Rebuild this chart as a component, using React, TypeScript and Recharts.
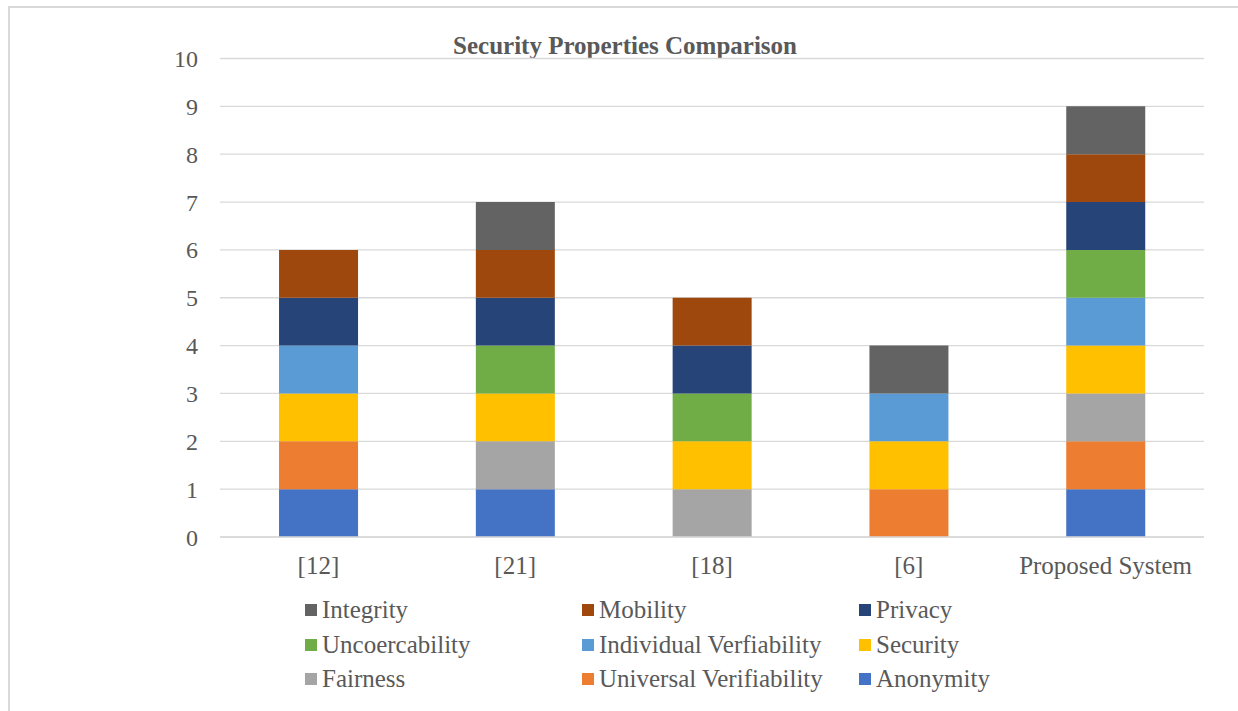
import { BarChart, Bar, XAxis, YAxis, CartesianGrid } from 'recharts';

// Categories (x axis)
const categories = ['[12]', '[21]', '[18]', '[6]', 'Proposed System'];

// Series values per category, stacked bottom to top
const anonymity = [1, 1, 0, 0, 1];
const universalVerifiability = [1, 0, 0, 1, 1];
const fairness = [0, 1, 1, 0, 1];
const security = [1, 1, 1, 1, 1];
const individualVerfiability = [1, 0, 0, 1, 1];
const uncoercability = [0, 1, 1, 0, 1];
const privacy = [1, 1, 1, 0, 1];
const mobility = [1, 1, 1, 0, 1];
const integrity = [0, 1, 0, 1, 1];

const yTicks = [0, 1, 2, 3, 4, 5, 6, 7, 8, 9, 10];

const series = [
    { key: 'Anonymity', values: anonymity, color: '#4472C4' },
    { key: 'Universal Verifiability', values: universalVerifiability, color: '#ED7D31' },
    { key: 'Fairness', values: fairness, color: '#A5A5A5' },
    { key: 'Security', values: security, color: '#FFC000' },
    { key: 'Individual Verfiability', values: individualVerfiability, color: '#5B9BD5' },
    { key: 'Uncoercability', values: uncoercability, color: '#70AD47' },
    { key: 'Privacy', values: privacy, color: '#264478' },
    { key: 'Mobility', values: mobility, color: '#9E480E' },
    { key: 'Integrity', values: integrity, color: '#636363' },
];

const data = categories.map((name, i) => {
    const row: Record<string, string | number> = { name };
    series.forEach(s => {
        row[s.key] = s.values[i];
    });
    return row;
});

const FONT = '"Liberation Serif", "Times New Roman", serif';
const TEXT = '#595959';
const GRID = '#d9d9d9';

// legend shows series in reverse order, 3 per row
const legendItems = [...series].reverse();

export default function App() {
    return (
        <div
            style={{
                position: 'fixed',
                left: 0,
                top: 0,
                width: 1238,
                height: 711,
                overflow: 'hidden',
                background: '#fff',
                fontFamily: FONT,
            }}
        >
            <div
                style={{
                    position: 'absolute',
                    left: 8,
                    top: 6,
                    width: 1300,
                    height: 800,
                    border: `2px solid ${GRID}`,
                    boxSizing: 'border-box',
                }}
            />
            <div
                style={{
                    position: 'absolute',
                    left: 625,
                    top: 33,
                    transform: 'translateX(-50%)',
                    fontSize: 25,
                    lineHeight: '25px',
                    fontWeight: 'bold',
                    color: TEXT,
                    whiteSpace: 'nowrap',
                }}
            >
                Security Properties Comparison
            </div>
            <div style={{ position: 'absolute', left: 0, top: 0 }}>
                <BarChart
                    width={1238}
                    height={711}
                    data={data}
                    margin={{ top: 58.5, right: 34, left: 160, bottom: 144 }}
                    barCategoryGap="30%"
                >
                    <CartesianGrid vertical={false} stroke={GRID} strokeWidth={1.3} />
                    <XAxis
                        dataKey="name"
                        height={30}
                        axisLine={{ stroke: GRID, strokeWidth: 1.3 }}
                        tickLine={false}
                        tickSize={0}
                        tickMargin={19}
                        tick={{ fill: TEXT, fontSize: 25, fontFamily: FONT }}
                    />
                    <YAxis
                        width={60}
                        domain={[0, 10]}
                        ticks={yTicks}
                        axisLine={false}
                        tickLine={false}
                        tickSize={0}
                        tickMargin={22}
                        tick={{ fill: TEXT, fontSize: 24, fontFamily: FONT }}
                    />
                    {series.map(s => (
                        <Bar
                            key={s.key}
                            dataKey={s.key}
                            stackId="a"
                            fill={s.color}
                            isAnimationActive={false}
                        />
                    ))}
                </BarChart>
            </div>
            <div
                style={{
                    position: 'absolute',
                    left: 305,
                    top: 593,
                    display: 'grid',
                    gridTemplateColumns: '277px 277px 277px',
                    rowGap: 0,
                }}
            >
                {legendItems.map(s => (
                    <div
                        key={s.key}
                        style={{
                            display: 'flex',
                            alignItems: 'center',
                            height: 34.5,
                            fontSize: 25,
                            color: TEXT,
                            whiteSpace: 'nowrap',
                        }}
                    >
                        <span
                            style={{
                                display: 'inline-block',
                                width: 12,
                                height: 12,
                                background: s.color,
                                marginRight: 5,
                            }}
                        />
                        {s.key}
                    </div>
                ))}
            </div>
        </div>
    );
}
